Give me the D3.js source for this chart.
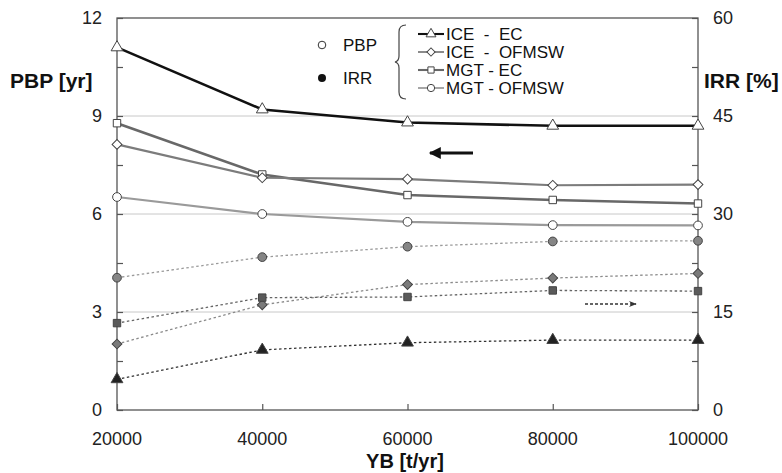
<!DOCTYPE html>
<html>
<head>
<meta charset="utf-8">
<script src="https://cdn.jsdelivr.net/npm/d3@7"></script>
<style>
    body { margin: 0; background: #fff; }
    text { font-family: Arial, "Liberation Sans", sans-serif; }
    .legText { white-space: pre; }
</style>
</head>
<body>
<div id="chart"></div>
<script>

// YB values (x axis)
var ybValues = [20000, 40000, 60000, 80000, 100000];

// PBP [yr] - left axis
var pbpIceEc     = [11.1, 9.2, 8.8, 8.7, 8.7];
var pbpIceOfmsw  = [8.13, 7.11, 7.07, 6.88, 6.9];
var pbpMgtEc     = [8.78, 7.21, 6.58, 6.43, 6.32];
var pbpMgtOfmsw  = [6.52, 6.0, 5.76, 5.66, 5.65];

// IRR [%] - right axis
var irrIceEc     = [4.7, 9.2, 10.3, 10.7, 10.7];
var irrIceOfmsw  = [10.1, 16.1, 19.2, 20.2, 20.9];
var irrMgtEc     = [13.3, 17.2, 17.3, 18.3, 18.2];
var irrMgtOfmsw  = [20.25, 23.4, 25.0, 25.8, 25.9];

var seriesNames = ["ICE  -  EC", "ICE  -  OFMSW", "MGT - EC", "MGT - OFMSW"];
var leftTicks = [0, 3, 6, 9, 12];
var rightTicks = [0, 15, 30, 45, 60];

var margin = { top: 18, right: 84, bottom: 63, left: 117 };
var width = 782 - margin.left - margin.right,
    height = 473 - margin.top - margin.bottom;

var svg = d3.select("#chart").append("svg")
    .attr("width", 782)
    .attr("height", 473);

var g = svg.append("g")
    .attr("transform", "translate(" + margin.left + "," + margin.top + ")");

var x = d3.scaleLinear().domain([20000, 100000]).range([0, width]);
var yLeft = d3.scaleLinear().domain([0, 12]).range([height, 0]);
var yRight = d3.scaleLinear().domain([0, 60]).range([height, 0]);

// gridlines
g.selectAll(".grid")
    .data([3, 6, 9])
    .enter().append("line")
    .attr("class", "grid")
    .attr("x1", 0).attr("x2", width)
    .attr("y1", function (d) { return yLeft(d); })
    .attr("y2", function (d) { return yLeft(d); })
    .attr("stroke", "#c8c8c8")
    .attr("stroke-width", 1);

// frame
g.append("rect")
    .attr("x", 0).attr("y", 0)
    .attr("width", width).attr("height", height)
    .attr("fill", "none")
    .attr("stroke", "#555")
    .attr("stroke-width", 1.3);

// axes (ticks inside)
var axisColor = "#555";
var leftAxis = g.append("g")
    .call(d3.axisRight(yLeft).tickValues(d3.range(0, 12.1, 1.5)).tickSize(6).tickFormat(""));
var rightAxis = g.append("g")
    .attr("transform", "translate(" + width + ",0)")
    .call(d3.axisLeft(yRight).tickValues(d3.range(0, 60.1, 7.5)).tickSize(6).tickFormat(""));
var bottomAxis = g.append("g")
    .attr("transform", "translate(0," + height + ")")
    .call(d3.axisTop(x).tickValues(ybValues).tickSize(6).tickFormat(""));
[leftAxis, rightAxis, bottomAxis].forEach(function (a) {
    a.select(".domain").remove();
    a.selectAll("line").attr("stroke", axisColor).attr("stroke-width", 1.2);
});

// tick labels
g.selectAll(".ltick")
    .data(leftTicks)
    .enter().append("text")
    .attr("x", -15)
    .attr("y", function (d) { return yLeft(d); })
    .attr("dy", "0.35em")
    .attr("text-anchor", "end")
    .attr("font-size", 18)
    .attr("fill", "#222")
    .text(function (d) { return d; });

g.selectAll(".rtick")
    .data(rightTicks)
    .enter().append("text")
    .attr("x", width + 15)
    .attr("y", function (d) { return yRight(d); })
    .attr("dy", "0.35em")
    .attr("font-size", 18)
    .attr("fill", "#222")
    .text(function (d) { return d; });

g.selectAll(".xtick")
    .data(ybValues)
    .enter().append("text")
    .attr("x", function (d) { return x(d); })
    .attr("y", height + 35)
    .attr("text-anchor", "middle")
    .attr("font-size", 18)
    .attr("fill", "#222")
    .text(function (d) { return d; });

// axis titles
svg.append("text").attr("x", 10).attr("y", 88)
    .attr("font-size", 21).attr("font-weight", "bold").attr("fill", "#111")
    .text("PBP [yr]");
svg.append("text").attr("x", 704).attr("y", 88)
    .attr("font-size", 21).attr("font-weight", "bold").attr("fill", "#111")
    .text("IRR [%]");
svg.append("text").attr("x", 405).attr("y", 468)
    .attr("text-anchor", "middle")
    .attr("font-size", 20).attr("font-weight", "bold").attr("fill", "#111")
    .text("YB [t/yr]");

// series definitions
var pbpSeries = [
    { values: pbpMgtOfmsw, color: "#9a9a9a", width: 2.2, shape: "circle" },
    { values: pbpMgtEc,    color: "#686868", width: 2.6, shape: "square" },
    { values: pbpIceOfmsw, color: "#7c7c7c", width: 2.2, shape: "diamond" },
    { values: pbpIceEc,    color: "#111111", width: 2.6, shape: "triangle" }
];
var irrSeries = [
    { values: irrMgtOfmsw, color: "#9a9a9a", fill: "#858585", shape: "circle" },
    { values: irrIceOfmsw, color: "#8a8a8a", fill: "#7a7a7a", shape: "diamond" },
    { values: irrMgtEc,    color: "#666666", fill: "#5a5a5a", shape: "square" },
    { values: irrIceEc,    color: "#333333", fill: "#222222", shape: "triangle" }
];

// diamonds are squares turned by 45 degrees
var symbolTypes = {
    circle: d3.symbolCircle,
    square: d3.symbolSquare,
    diamond: d3.symbolSquare,
    triangle: d3.symbolTriangle
};
var symbolSizes = { circle: 60, square: 55, diamond: 48, triangle: 60 };
var symbolRotate = { circle: 0, square: 0, diamond: 45, triangle: 0 };

function drawSeries(s, yScale, dashed) {
    var line = d3.line()
        .x(function (d, i) { return x(ybValues[i]); })
        .y(function (d) { return yScale(d); });

    g.append("path")
        .datum(s.values)
        .attr("fill", "none")
        .attr("stroke", s.color)
        .attr("stroke-width", dashed ? 1.3 : s.width)
        .attr("stroke-dasharray", dashed ? "2.5,2.5" : null)
        .attr("d", line);

    g.selectAll(null)
        .data(s.values)
        .enter().append("path")
        .attr("transform", function (d, i) {
            return "translate(" + x(ybValues[i]) + "," + yScale(d) + ") rotate(" + symbolRotate[s.shape] + ")";
        })
        .attr("d", d3.symbol().type(symbolTypes[s.shape]).size(symbolSizes[s.shape]))
        .attr("fill", dashed ? s.fill : "#fff")
        .attr("stroke", "#444")
        .attr("stroke-width", 1);
}

irrSeries.forEach(function (s) { drawSeries(s, yRight, true); });
pbpSeries.forEach(function (s) { drawSeries(s, yLeft, false); });

// arrows
var defs = svg.append("defs");
defs.append("marker")
    .attr("id", "headSolid")
    .attr("viewBox", "0 0 10 10").attr("refX", 9).attr("refY", 5)
    .attr("markerWidth", 5).attr("markerHeight", 4).attr("orient", "auto")
    .append("path").attr("d", "M0,0 L10,5 L0,10 Z").attr("fill", "#111");
defs.append("marker")
    .attr("id", "headOpen")
    .attr("viewBox", "0 0 10 10").attr("refX", 9).attr("refY", 5)
    .attr("markerWidth", 9).attr("markerHeight", 6).attr("orient", "auto")
    .append("path").attr("d", "M0,1 L10,5 L0,9 L3,5 Z").attr("fill", "#333");

svg.append("line")
    .attr("x1", 473).attr("y1", 153).attr("x2", 430).attr("y2", 153)
    .attr("stroke", "#111").attr("stroke-width", 3)
    .attr("marker-end", "url(#headSolid)");
svg.append("line")
    .attr("x1", 585).attr("y1", 304).attr("x2", 636).attr("y2", 304)
    .attr("stroke", "#333").attr("stroke-width", 1.3)
    .attr("stroke-dasharray", "3,2")
    .attr("marker-end", "url(#headOpen)");

// legend
var legend = svg.append("g");
legend.append("circle").attr("cx", 322).attr("cy", 45).attr("r", 3.8)
    .attr("fill", "#fff").attr("stroke", "#333").attr("stroke-width", 1);
legend.append("text").attr("x", 343).attr("y", 51)
    .attr("font-size", 17).attr("fill", "#111").text("PBP");
legend.append("circle").attr("cx", 322).attr("cy", 78).attr("r", 4)
    .attr("fill", "#111");
legend.append("text").attr("x", 343).attr("y", 84)
    .attr("font-size", 17).attr("fill", "#111").text("IRR");

// brace
legend.append("path")
    .attr("d", "M406,25 Q399,25 399,32 L399,56 Q399,61 395,62 Q399,63 399,68 L399,92 Q399,99 406,99")
    .attr("fill", "none").attr("stroke", "#444").attr("stroke-width", 1.2);

var legendRows = [pbpIceEc, pbpIceOfmsw, pbpMgtEc, pbpMgtOfmsw].map(function (v, i) {
    var s = pbpSeries.filter(function (p) { return p.values === v; })[0];
    return { name: seriesNames[i], s: s, y: 34 + i * 18 };
});

legendRows.forEach(function (r) {
    legend.append("line")
        .attr("x1", 418).attr("x2", 444)
        .attr("y1", r.y).attr("y2", r.y)
        .attr("stroke", r.s.color).attr("stroke-width", r.s.width * 0.8);
    legend.append("path")
        .attr("transform", "translate(431," + r.y + ") rotate(" + symbolRotate[r.s.shape] + ")")
        .attr("d", d3.symbol().type(symbolTypes[r.s.shape]).size(symbolSizes[r.s.shape] * 0.7))
        .attr("fill", "#fff").attr("stroke", "#444").attr("stroke-width", 1);
    legend.append("text")
        .attr("class", "legText")
        .attr("x", 446).attr("y", r.y + 6)
        .attr("font-size", 17).attr("fill", "#111")
        .text(r.name);
});

</script>
</body>
</html>
